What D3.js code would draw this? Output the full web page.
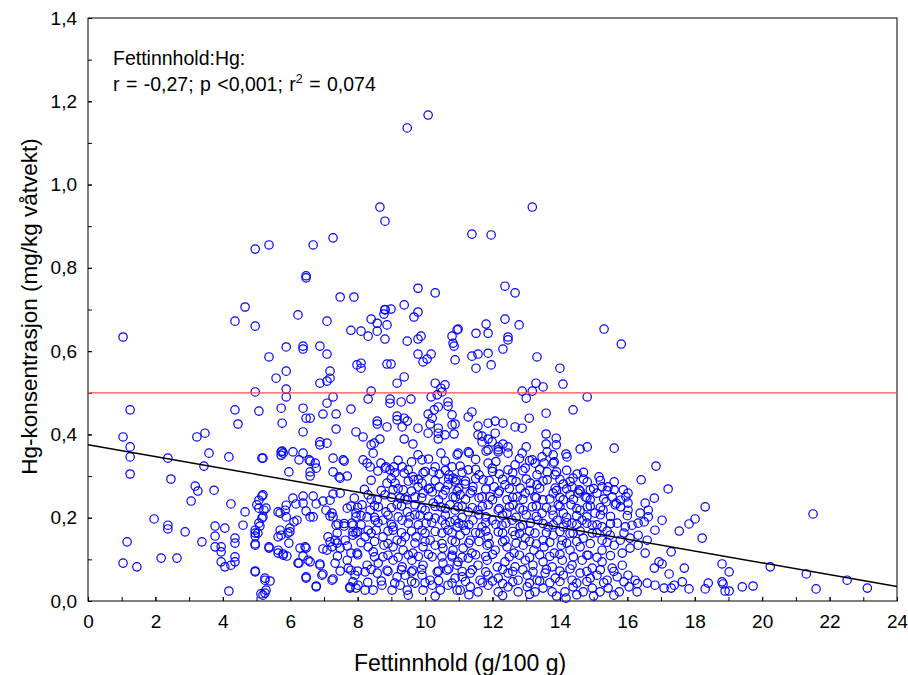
<!DOCTYPE html>
<html>
<head>
<meta charset="utf-8">
<script src="https://cdn.jsdelivr.net/npm/d3@7"></script>
<style>
  html, body { margin: 0; padding: 0; background: #fff; }
  svg { display: block; font-family: "Liberation Sans", Arial, sans-serif; }
</style>
</head>
<body>
<svg id="chart" width="908" height="675"></svg>
<script>
// ── DATA ──────────────────────────────────────────────────────────────────
// [fett g/100 g, Hg mg/kg] pairs, grouped by region
const highPoints = [
  [9.47,1.136],[10.09,1.167],[8.66,0.946],[8.81,0.912],[7.27,0.872],[11.39,0.881],[11.96,0.879],[13.18,0.946],
  [7.48,0.73],[7.89,0.73],[9.79,0.751],[10.30,0.74],[12.37,0.756],[12.67,0.74],[9.38,0.711],[8.81,0.70],
  [1.04,0.634],[4.96,0.845],[5.37,0.855],[6.68,0.855],[6.47,0.776],[6.47,0.781],[4.66,0.706],[4.36,0.672],
  [4.96,0.66],[6.23,0.687],[7.09,0.672],[7.80,0.65],[5.88,0.61],[6.38,0.612],[6.38,0.605],[6.88,0.612],
  [7.09,0.593],[5.37,0.586],[7.98,0.567],[5.88,0.552],[5.58,0.535],[7.18,0.552],[7.18,0.535],[7.09,0.528],
  [6.88,0.523],[4.96,0.502],[5.88,0.509],
  [8.40,0.677],[8.58,0.667],[8.81,0.699],[8.78,0.689],[8.99,0.701],[9.67,0.682],[9.79,0.694],[8.10,0.648],
  [8.31,0.636],[8.58,0.648],[8.87,0.663],[8.81,0.629],[9.47,0.624],[9.79,0.629],[9.88,0.636],[10.80,0.636],
  [10.95,0.651],[10.83,0.619],[10.86,0.612],[10.89,0.579],[9.79,0.593],[10.18,0.593],[10.06,0.581],[9.94,0.574],
  [8.10,0.571],[8.10,0.559],[8.87,0.569],[8.99,0.569],[9.17,0.523],[9.38,0.538],[10.30,0.523],[10.59,0.519],
  [10.47,0.511],[10.50,0.502],[8.40,0.504],
  [10.98,0.653],[11.51,0.643],[11.81,0.665],[11.87,0.643],[12.37,0.677],[12.79,0.663],[12.46,0.634],[12.46,0.627],
  [12.31,0.605],[11.39,0.588],[11.57,0.593],[11.87,0.595],[11.51,0.559],[11.96,0.567],[13.32,0.586],[15.31,0.653],
  [15.82,0.617],[14.00,0.559],[14.09,0.521],[13.29,0.523],[13.50,0.514],[13.18,0.504],[12.88,0.504]
];

const bandPoints = [
  [5.88,0.49],[7.27,0.49],[7.09,0.475],[8.31,0.485],[8.96,0.485],[8.96,0.475],[9.29,0.478],[9.58,0.485],
  [10.18,0.49],[10.68,0.478],[10.68,0.468],[10.39,0.466],[10.27,0.459],[10.09,0.449],[10.21,0.439],[10.80,0.447],
  [10.36,0.495],[13.0,0.487],[14.81,0.49],
  [1.25,0.459],[4.36,0.459],[5.07,0.456],[5.73,0.463],[6.38,0.463],[7.80,0.461],
  [5.76,0.427],[4.45,0.425],[6.47,0.439],[6.59,0.439],[6.38,0.406],[6.97,0.449],[7.36,0.449],[7.36,0.413],
  [7.95,0.406],[8.16,0.394],[8.40,0.375],[8.49,0.379],[8.66,0.389],[8.58,0.432],[8.58,0.425],[8.87,0.418],
  [9.17,0.444],[9.17,0.435],[9.38,0.439],[9.47,0.432],[9.32,0.418],[9.79,0.415],[9.38,0.389],[9.64,0.377],
  [10.09,0.403],[10.15,0.425],[10.39,0.415],[10.39,0.403],[10.59,0.399],[10.39,0.389],[10.80,0.423],[10.86,0.401],
  [5.76,0.36],
  [11.39,0.454],[11.28,0.442],[11.57,0.42],[11.87,0.427],[12.08,0.432],[12.31,0.427],[13.09,0.439],[13.59,0.451],
  [14.39,0.459],[12.67,0.418],[12.88,0.415],[11.57,0.399],[11.69,0.396],[12.08,0.403],[11.99,0.382],[11.69,0.382],
  [12.17,0.37],[12.31,0.377],[12.46,0.37],[11.87,0.389],[13.0,0.37],[13.59,0.401],[13.89,0.391],[13.59,0.377],
  [13.89,0.375],[14.60,0.365],[14.81,0.37],[15.61,0.367],[10.89,0.425],[11.28,0.358],[11.81,0.36],[12.17,0.358],
  [12.88,0.355],[13.62,0.358],[14.18,0.353]
];

const leftPoints = [
  [1.04,0.394],[1.25,0.37],[1.25,0.346],[1.25,0.305],[3.23,0.394],[3.47,0.403],[3.59,0.355],[3.44,0.324],
  [2.37,0.343],[2.46,0.293],[4.18,0.346],[5.16,0.343],[5.73,0.358],[5.73,0.35],[6.08,0.358],[6.38,0.355],
  [6.26,0.339],[6.59,0.336],[6.74,0.331],[6.77,0.319],[6.59,0.31],[6.59,0.30],[5.96,0.31],[6.88,0.382],
  [7.09,0.379],[6.88,0.375],[7.27,0.343],[7.60,0.336],[7.27,0.31],[7.48,0.295],[7.69,0.30],
  [3.18,0.276],[3.26,0.264],[3.06,0.24],[3.74,0.266],[4.24,0.233],[4.66,0.214],[5.16,0.252],[5.07,0.242],
  [5.07,0.223],[5.28,0.223],[5.16,0.199],[1.96,0.197],[2.37,0.182],[2.37,0.173],[2.88,0.166],[3.77,0.18],
  [3.77,0.156],[4.06,0.175],[4.60,0.182],[3.38,0.142],[3.77,0.13],[3.95,0.13],[3.95,0.118],[4.36,0.151],
  [4.36,0.139],[4.36,0.106],[4.36,0.094],[3.95,0.094],[4.06,0.082],[4.24,0.086],[1.16,0.142],[1.04,0.091],
  [1.45,0.082],[2.17,0.103],[2.64,0.103],[4.96,0.163],[4.96,0.156],[5.10,0.18],[4.96,0.137],[5.37,0.13],
  [4.96,0.07],[5.25,0.05],[5.40,0.048],[5.13,0.017],[5.25,0.019],[4.18,0.024],
  [5.70,0.211],[5.88,0.23],[6.08,0.247],[6.17,0.233],[6.38,0.252],[6.38,0.235],[6.47,0.216],[6.68,0.252],
  [6.77,0.233],[6.68,0.202],[6.97,0.24],[7.18,0.242],[7.27,0.257],[7.48,0.259],[7.80,0.228],[7.24,0.211],
  [7.27,0.202],[7.18,0.204],[7.95,0.211],[5.70,0.17],[5.73,0.158],[5.99,0.166],[5.99,0.175],[6.11,0.19],
  [6.20,0.194],[5.96,0.139],[5.64,0.115],[5.79,0.113],[5.90,0.108],[6.47,0.127],[6.38,0.108],[6.26,0.091],
  [6.59,0.094],[6.88,0.089],[6.97,0.065],[6.47,0.055],[6.77,0.034],[7.27,0.053],[7.48,0.072],[6.97,0.125],
  [7.09,0.122],[7.18,0.142],[7.33,0.146],[7.39,0.139],[7.48,0.127],[7.69,0.132],[7.80,0.115],[7.60,0.18],
  [7.36,0.182],[7.86,0.182],[7.86,0.166],[7.86,0.158],[7.80,0.074],[7.86,0.046],[7.77,0.034],[7.95,0.031]
];

const midPoints = [
  [5.19,0.343],[5.79,0.355],[6.56,0.339],[7.57,0.339],[8.16,0.339],[8.46,0.355],[8.69,0.331],[8.84,0.322],
  [9.08,0.322],[9.32,0.322],[9.79,0.351],[9.91,0.339],[10.30,0.322],[10.47,0.355],[10.80,0.322],[10.95,0.351],
  [7.45,0.298],[8.28,0.331],[8.37,0.322],[8.81,0.319],[8.96,0.315],[9.38,0.307],[9.64,0.298],[9.94,0.307],
  [10.24,0.310],[10.42,0.305],[10.71,0.303],[10.83,0.295],[8.87,0.283],[9.11,0.283],[9.67,0.291],[9.91,0.283],
  [10.15,0.271],[10.42,0.274],[10.68,0.279],[10.92,0.291],[9.35,0.267],[9.79,0.274],
  [5.19,0.255],[8.31,0.255],[8.58,0.243],[8.81,0.255],[9.05,0.267],[9.26,0.247],[9.47,0.243],[9.70,0.250],
  [9.94,0.259],[10.21,0.262],[10.53,0.255],[10.83,0.250],[10.95,0.264],
  [5.01,0.231],[5.22,0.218],[5.64,0.214],[5.85,0.218],[7.06,0.218],[7.69,0.223],[8.13,0.231],[8.37,0.218],
  [8.61,0.226],[8.84,0.214],[9.17,0.231],[9.47,0.214],[9.70,0.231],[10.0,0.218],[10.24,0.235],[10.47,0.226],
  [10.74,0.231],[10.89,0.218],
  [5.19,0.202],[5.07,0.187],[5.88,0.202],[6.59,0.202],[7.42,0.185],[7.83,0.187],[7.95,0.202],[8.28,0.202],
  [8.52,0.194],[8.75,0.194],[9.05,0.178],[9.32,0.194],[9.55,0.202],[9.85,0.206],[10.03,0.187],[10.30,0.199],
  [10.50,0.194],[10.74,0.190],[10.95,0.178],
  [4.96,0.170],[5.04,0.163],[5.93,0.163],[5.64,0.154],[7.12,0.154],[7.39,0.163],[7.63,0.146],[7.95,0.163],
  [8.22,0.154],[8.31,0.170],[8.55,0.170],[8.75,0.154],[9.05,0.170],[9.17,0.146],[9.41,0.154],[9.73,0.154],
  [9.91,0.170],[10.15,0.146],[10.50,0.163],[10.68,0.170],[10.80,0.146],
  [4.96,0.134],[5.37,0.127],[5.64,0.122],[5.79,0.110],[6.44,0.130],[7.24,0.130],[7.98,0.115],[8.31,0.130],
  [8.46,0.118],[8.78,0.134],[9.05,0.130],[9.35,0.122],[9.64,0.115],[9.94,0.130],[10.30,0.134],[10.53,0.127],
  [10.83,0.122],
  [6.23,0.091],[6.53,0.098],[6.88,0.086],[6.29,0.127],[7.33,0.091],[7.69,0.098],[8.28,0.086],[8.61,0.091],
  [8.75,0.106],[9.05,0.098],[9.32,0.082],[9.61,0.098],[9.94,0.086],[10.21,0.106],[10.53,0.091],[10.80,0.106],
  [10.95,0.086],
  [4.96,0.072],[5.25,0.055],[6.47,0.058],[6.94,0.062],[7.24,0.050],[7.72,0.079],[7.92,0.062],[8.22,0.070],
  [8.58,0.067],[8.87,0.074],[9.17,0.058],[9.41,0.062],[9.64,0.074],[9.91,0.062],[10.15,0.050],[10.36,0.070],
  [10.65,0.074],[10.89,0.055],
  [6.77,0.036],[7.77,0.031],[8.01,0.038],[8.22,0.026],[8.46,0.026],[8.72,0.038],[9.02,0.026],[9.26,0.038],
  [9.47,0.026],[9.70,0.043],[9.94,0.026],[10.21,0.038],[10.45,0.026],[10.68,0.038],[10.95,0.026],[5.19,0.014],
  [5.28,0.026]
];

const rightPoints = [
  [10.98,0.355],[11.31,0.355],[11.87,0.363],[12.17,0.363],[12.46,0.355],[13.18,0.339],[13.47,0.346],[13.80,0.351],
  [13.83,0.334],[13.53,0.331],[13.26,0.331],[14.21,0.346],[16.85,0.324],
  [11.04,0.324],[11.28,0.315],[11.60,0.303],[11.87,0.331],[11.99,0.319],[12.20,0.305],[12.46,0.315],[12.67,0.327],
  [12.97,0.319],[13.32,0.303],[13.62,0.310],[13.80,0.331],[13.86,0.303],[14.51,0.305],[14.39,0.295],[14.81,0.286],
  [15.16,0.298],[15.61,0.286],[16.41,0.291],
  [10.89,0.286],[11.19,0.281],[11.42,0.274],[11.72,0.291],[12.05,0.274],[12.37,0.279],[12.58,0.291],[12.82,0.271],
  [13.12,0.283],[13.32,0.279],[13.62,0.291],[13.86,0.271],[14.10,0.281],[14.36,0.274],[14.57,0.267],[14.90,0.267],
  [15.25,0.274],[15.43,0.274],[15.61,0.267],[15.88,0.267],[16.02,0.259],
  [11.04,0.255],[11.34,0.259],[11.69,0.250],[11.93,0.250],[12.17,0.259],[12.43,0.243],[12.73,0.250],[12.97,0.259],
  [13.26,0.250],[13.50,0.243],[13.80,0.259],[14.10,0.243],[14.30,0.255],[14.54,0.259],[14.75,0.250],[14.90,0.243],
  [15.10,0.259],[15.37,0.238],[15.55,0.250],[15.67,0.235],[15.96,0.250],[16.02,0.235],[16.62,0.218],[16.80,0.247],
  [16.53,0.235],[17.03,0.194],
  [10.98,0.226],[11.28,0.214],[11.57,0.218],[11.87,0.231],[12.17,0.218],[12.43,0.211],[12.61,0.231],[12.91,0.218],
  [13.18,0.226],[13.47,0.211],[13.77,0.218],[13.95,0.231],[14.10,0.211],[14.33,0.231],[14.60,0.218],[14.81,0.226],
  [15.04,0.211],[15.28,0.218],[15.64,0.231],[16.02,0.218],[16.38,0.211],[16.62,0.202],
  [10.89,0.194],[11.13,0.182],[11.42,0.194],[11.69,0.178],[11.99,0.194],[12.28,0.182],[12.58,0.194],[12.82,0.178],
  [13.12,0.187],[13.35,0.194],[13.65,0.178],[13.92,0.194],[14.10,0.178],[14.36,0.187],[14.66,0.194],[14.96,0.182],
  [15.25,0.178],[15.70,0.187],[15.94,0.178],[16.14,0.182],[16.32,0.187],[16.50,0.190],[16.82,0.170],
  [11.04,0.158],[11.34,0.146],[11.63,0.163],[11.87,0.154],[12.17,0.166],[12.37,0.146],[12.67,0.158],[12.97,0.151],
  [13.26,0.163],[13.50,0.146],[13.80,0.158],[14.07,0.146],[14.39,0.163],[14.69,0.151],[14.96,0.163],[15.25,0.146],
  [15.49,0.158],[15.79,0.146],[16.08,0.151],[16.32,0.158],[16.59,0.146],
  [11.13,0.127],[11.39,0.115],[11.84,0.134],[12.08,0.122],[12.43,0.130],[12.64,0.115],[12.91,0.134],[13.23,0.122],
  [13.53,0.130],[13.83,0.115],[14.04,0.134],[14.30,0.122],[14.60,0.130],[14.84,0.110],[15.25,0.122],[15.61,0.134],
  [15.85,0.115],[16.08,0.127],[16.32,0.134],[16.53,0.115],
  [10.98,0.094],[11.28,0.103],[11.57,0.086],[11.84,0.098],[12.14,0.082],[12.37,0.094],[12.67,0.082],[12.97,0.098],
  [13.20,0.086],[13.50,0.094],[13.77,0.082],[14.07,0.098],[14.36,0.086],[14.66,0.098],[14.96,0.079],[15.25,0.094],
  [15.55,0.079],[15.85,0.086],[16.80,0.079],[16.94,0.094],
  [11.10,0.058],[11.34,0.067],[11.63,0.050],[11.87,0.062],[12.17,0.055],[12.46,0.067],[12.76,0.050],[13.03,0.062],
  [13.32,0.050],[13.56,0.067],[13.86,0.055],[14.10,0.062],[14.36,0.050],[14.60,0.067],[14.90,0.055],[15.10,0.062],
  [15.40,0.050],[15.70,0.058],[16.02,0.062],[16.23,0.050],[16.59,0.043],[16.82,0.038],
  [11.04,0.026],[11.34,0.034],[11.57,0.022],[11.87,0.038],[12.17,0.022],[12.46,0.034],[12.76,0.022],[13.03,0.034],
  [13.26,0.022],[13.50,0.031],[13.77,0.022],[14.15,0.022],[14.39,0.034],[14.69,0.022],[14.96,0.031],[15.19,0.022],
  [15.43,0.031],[15.76,0.022],[16.05,0.034],[16.29,0.022],[14.18,0.007]
];

// the packed core of the cloud, where circles overlap in the picture
const corePoints = [
  [9.2,0.338],[9.6,0.334],[10.1,0.341],[10.6,0.336],[11.5,0.340],[12.1,0.335],[12.8,0.342],[13.1,0.337],
  [8.6,0.312],[9.1,0.308],[9.5,0.315],[10.0,0.311],[10.6,0.314],[11.1,0.309],[11.5,0.316],[12.0,0.311],
  [12.6,0.308],[12.9,0.313],[13.4,0.316],[13.9,0.310],[14.2,0.314],[14.7,0.309],
  [8.4,0.290],[9.0,0.294],[9.5,0.288],[9.8,0.292],[10.3,0.289],[10.7,0.293],[11.2,0.288],[11.5,0.294],
  [11.9,0.289],[12.3,0.292],[12.7,0.287],[13.0,0.293],[13.5,0.288],[14.0,0.292],[14.3,0.287],[14.7,0.293],[15.2,0.289],
  [8.2,0.268],[8.7,0.265],[9.2,0.270],[9.6,0.264],[10.1,0.269],[10.6,0.266],[11.0,0.271],[11.4,0.265],
  [11.8,0.269],[12.2,0.264],[12.5,0.270],[13.1,0.266],[13.4,0.271],[13.9,0.265],[14.2,0.269],[14.6,0.264],
  [15.0,0.270],[15.4,0.265],
  [7.9,0.247],[8.4,0.244],[9.0,0.249],[9.4,0.245],[9.9,0.248],[10.4,0.243],[10.9,0.249],[11.2,0.244],
  [11.6,0.248],[12.0,0.243],[12.6,0.249],[12.9,0.244],[13.3,0.248],[13.7,0.245],[14.0,0.249],[14.4,0.244],
  [14.8,0.248],[15.3,0.245],[15.8,0.242],
  [8.0,0.225],[8.5,0.229],[9.0,0.224],[9.3,0.228],[9.9,0.223],[10.3,0.227],[10.6,0.222],[11.1,0.228],
  [11.4,0.224],[11.7,0.227],[12.2,0.222],[12.5,0.226],[12.8,0.223],[13.3,0.228],[13.6,0.224],[14.0,0.227],
  [14.5,0.222],[14.9,0.228],[15.2,0.224],[15.8,0.226],
  [8.1,0.205],[8.5,0.201],[8.9,0.206],[9.2,0.202],[9.7,0.207],[10.1,0.203],[10.6,0.206],[11.1,0.201],
  [11.6,0.207],[11.8,0.202],[12.3,0.206],[12.7,0.201],[13.0,0.207],[13.3,0.203],[13.8,0.206],[14.2,0.201],
  [14.5,0.205],[14.8,0.202],[15.2,0.207],[15.5,0.203],[16.0,0.205],
  [7.6,0.186],[8.1,0.183],[8.6,0.188],[9.0,0.184],[9.5,0.187],[9.8,0.183],[10.2,0.188],[10.6,0.184],
  [11.0,0.187],[11.3,0.183],[11.8,0.188],[12.1,0.184],[12.4,0.187],[12.9,0.182],[13.5,0.186],[13.8,0.183],
  [14.2,0.188],[14.5,0.184],[14.8,0.187],[15.1,0.183],[15.5,0.186],
  [8.0,0.167],[8.4,0.163],[8.9,0.168],[9.3,0.164],[9.6,0.168],[10.0,0.163],[10.3,0.167],[10.8,0.164],
  [11.2,0.169],[11.5,0.164],[11.8,0.168],[12.3,0.163],[12.6,0.167],[12.8,0.162],[13.1,0.168],[13.6,0.164],
  [14.0,0.167],[14.3,0.162],[14.6,0.168],[15.1,0.164],[15.4,0.168],[15.9,0.163],
  [8.1,0.140],[8.5,0.143],[8.9,0.138],[9.3,0.142],[9.7,0.139],[10.0,0.143],[10.5,0.138],[10.9,0.142],
  [11.3,0.139],[11.6,0.143],[11.9,0.138],[12.3,0.142],[12.7,0.139],[13.1,0.143],[13.3,0.137],[13.7,0.141],
  [14.2,0.139],[14.5,0.143],[14.9,0.138],[15.4,0.141],
  [7.4,0.108],[8.0,0.111],[8.5,0.106],[8.9,0.110],[9.2,0.105],[9.5,0.111],[9.8,0.107],[10.1,0.112],
  [10.5,0.106],[10.8,0.110],[11.1,0.105],[11.5,0.111],[11.8,0.107],[12.0,0.112],[12.5,0.106],[12.8,0.110],
  [13.1,0.105],[13.4,0.111],[13.7,0.107],[14.0,0.112],[14.4,0.106],[14.8,0.110],[15.1,0.105],[15.5,0.109],
  [8.0,0.072],[8.4,0.076],[8.9,0.071],[9.3,0.075],[9.6,0.070],[9.9,0.076],[10.4,0.072],[10.7,0.077],
  [11.1,0.071],[11.4,0.075],[11.8,0.070],[12.3,0.076],[12.6,0.071],[12.9,0.075],[13.2,0.070],[13.6,0.076],
  [14.0,0.072],[14.3,0.077],[14.8,0.071],[15.2,0.075],[15.6,0.071],
  [8.3,0.045],[8.7,0.048],[9.1,0.043],[9.6,0.047],[10.0,0.044],[10.4,0.049],[10.8,0.043],[11.2,0.047],
  [11.7,0.044],[12.0,0.048],[12.3,0.042],[12.6,0.046],[13.1,0.043],[13.4,0.048],[13.7,0.044],[14.0,0.047],
  [14.5,0.043],[14.8,0.047],[15.3,0.044],[15.9,0.046],[16.3,0.042],
  [9.5,0.014],[10.3,0.012],[11.3,0.015],[12.3,0.013],[13.1,0.016],[13.9,0.012],[14.5,0.015],[15.0,0.012],[15.6,0.014]
];

const tailPoints = [
  [17.21,0.269],[18.31,0.226],[18.01,0.197],[17.83,0.185],[17.54,0.168],[18.22,0.151],[17.30,0.118],[21.51,0.209],
  [17.03,0.089],[17.24,0.065],[17.69,0.079],[18.81,0.089],[19.02,0.070],[17.63,0.046],[17.39,0.038],[17.09,0.031],
  [17.30,0.031],[17.83,0.029],[18.31,0.029],[18.40,0.043],[18.81,0.046],[18.84,0.041],[18.90,0.024],[19.02,0.024],
  [19.41,0.034],[19.73,0.036],[20.24,0.082],[21.31,0.065],[21.60,0.029],[22.52,0.050],[23.12,0.031]
];

const fitX = [0, 24];          // regression line ends
const fitY = [0.375, 0.035];
const limitHg = 0.5;           // red reference line

const xMajorTicks = [0, 2, 4, 6, 8, 10, 12, 14, 16, 18, 20, 22, 24];
const yMajorTicks = [0, 0.2, 0.4, 0.6, 0.8, 1.0, 1.2, 1.4];

const xTitle = 'Fettinnhold (g/100 g)';
const yTitle = 'Hg-konsentrasjon (mg/kg våtvekt)';
const noteLine1 = 'Fettinnhold:Hg:';

// ── CHART ─────────────────────────────────────────────────────────────────
const margin = { top: 18, right: 11, bottom: 74, left: 88 };
const svg = d3.select('#chart');
const W = +svg.attr('width') - margin.left - margin.right;
const H = +svg.attr('height') - margin.top - margin.bottom;
const g = svg.append('g').attr('transform', `translate(${margin.left},${margin.top})`);

const x = d3.scaleLinear().domain([0, 24]).range([0, W]);
const y = d3.scaleLinear().domain([0, 1.4]).range([H, 0]);

const no = d3.formatLocale({ decimal: ',', thousands: ' ', grouping: [3], currency: ['', ''] });
const fmtY = no.format('.1f');

// minor ticks
g.append('g')
  .attr('transform', `translate(0,${H})`)
  .call(d3.axisBottom(x).tickValues(d3.range(0, 25, 1)).tickSize(-4).tickFormat(''))
  .call(a => a.select('.domain').remove());
g.append('g')
  .call(d3.axisLeft(y).tickValues(d3.range(0, 15).map(i => i / 10)).tickSize(-4).tickFormat(''))
  .call(a => a.select('.domain').remove());

// labelled ticks
const xAxis = g.append('g')
  .attr('transform', `translate(0,${H})`)
  .call(d3.axisBottom(x).tickValues(xMajorTicks).tickSize(-4).tickPadding(14).tickFormat(d3.format('d')));
const yAxis = g.append('g')
  .call(d3.axisLeft(y).tickValues(yMajorTicks).tickSize(-4).tickPadding(11).tickFormat(fmtY));
[xAxis, yAxis].forEach(a => {
  a.select('.domain').remove();
  a.selectAll('text').attr('font-size', 19).attr('fill', '#000').attr('font-family', '"Liberation Sans", Arial, sans-serif');
});
g.selectAll('.tick line').attr('stroke', '#000');

// frame
g.append('rect')
  .attr('width', W).attr('height', H)
  .attr('fill', 'none').attr('stroke', '#000').attr('stroke-width', 1);

// points
const allPoints = [].concat(highPoints, bandPoints, leftPoints, midPoints, rightPoints, corePoints, tailPoints);
g.append('g')
  .selectAll('circle')
  .data(allPoints)
  .join('circle')
  .attr('cx', d => x(d[0]))
  .attr('cy', d => y(d[1]))
  .attr('r', 4.2)
  .attr('fill', 'none')
  .attr('stroke', '#0000ff')
  .attr('stroke-width', 1.2);

// red limit line
g.append('line')
  .attr('x1', 0).attr('x2', W)
  .attr('y1', y(limitHg)).attr('y2', y(limitHg))
  .attr('stroke', '#ff4a4a').attr('stroke-width', 1.2);

// regression line
g.append('line')
  .attr('x1', x(fitX[0])).attr('y1', y(fitY[0]))
  .attr('x2', x(fitX[1])).attr('y2', y(fitY[1]))
  .attr('stroke', '#000').attr('stroke-width', 1.5);

// note
const note = g.append('g').attr('font-size', 19.5).attr('fill', '#000');
note.append('text').attr('x', 25).attr('y', 47).text(noteLine1);
const t2 = note.append('text').attr('x', 25).attr('y', 73).attr('word-spacing', 1);
t2.append('tspan').text('r = -0,27; p <0,001; r');
t2.append('tspan').attr('font-size', 12.5).attr('dy', -8).text('2');
t2.append('tspan').attr('dy', 8).text(' = 0,074');

// axis titles
svg.append('text')
  .attr('x', 460).attr('y', 671)
  .attr('text-anchor', 'middle').attr('font-size', 23)
  .text(xTitle);
svg.append('text')
  .attr('transform', `translate(37,${margin.top + H / 2 - 3}) rotate(-90)`)
  .attr('text-anchor', 'middle').attr('font-size', 22.5)
  .text(yTitle);
</script>
</body>
</html>
